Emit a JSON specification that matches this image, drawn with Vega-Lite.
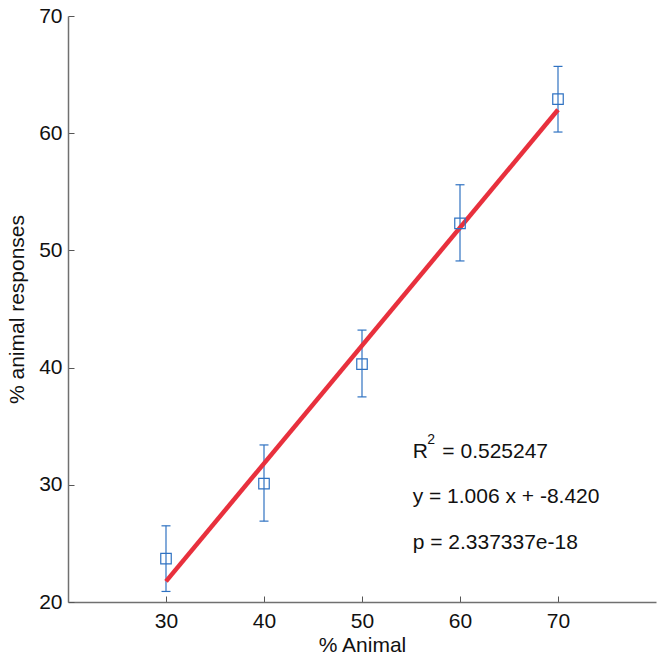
{
  "$schema": "https://vega.github.io/schema/vega-lite/v6.json",
  "width": 588,
  "height": 586,
  "autosize": {"type": "none"},
  "padding": {"left": 68, "top": 16, "right": 8, "bottom": 61},
  "background": "white",
  "config": {
    "view": {"stroke": null},
    "font": "Liberation Sans",
    "axis": {
      "grid": false,
      "domainColor": "#707070",
      "domainWidth": 1.5,
      "tickColor": "#555555",
      "tickWidth": 1,
      "tickSize": -6,
      "labelFont": "Liberation Sans",
      "labelFontSize": 21,
      "labelColor": "#111111",
      "titleFont": "Liberation Sans",
      "titleFontSize": 21,
      "titleFontWeight": "normal",
      "titleColor": "#111111"
    }
  },
  "datasets": {
    "points": [
      {"animal": 30, "resp": 23.7, "lo": 20.9, "hi": 26.5},
      {"animal": 40, "resp": 30.1, "lo": 26.9, "hi": 33.4},
      {"animal": 50, "resp": 40.3, "lo": 37.5, "hi": 43.2},
      {"animal": 60, "resp": 52.3, "lo": 49.1, "hi": 55.6},
      {"animal": 70, "resp": 62.9, "lo": 60.1, "hi": 65.7}
    ],
    "fit": [
      {"animal": 30, "resp": 21.76},
      {"animal": 70, "resp": 61.999}
    ],
    "notes": [
      {"tx": 55.17, "ty": 32.29, "label": "R"},
      {"tx": 58.2, "ty": 32.29, "label": "= 0.525247"},
      {"tx": 55.17, "ty": 28.45, "label": "y = 1.006 x + -8.420"},
      {"tx": 55.17, "ty": 24.52, "label": "p = 2.337337e-18"}
    ],
    "sup": [
      {"tx": 56.65, "ty": 33.45, "label": "2"}
    ]
  },
  "layer": [
    {
      "data": {"name": "points"},
      "mark": {"type": "errorbar", "color": "#2f72c2", "thickness": 1.2, "opacity": 1, "ticks": {"size": 9, "thickness": 1.2}},
      "encoding": {
        "x": {
          "field": "animal", "type": "quantitative",
          "scale": {"domain": [20, 80], "nice": false, "zero": false},
          "axis": {"values": [30, 40, 50, 60, 70], "title": "% Animal", "labelPadding": 14, "titlePadding": 3}
        },
        "y": {
          "field": "lo", "type": "quantitative",
          "scale": {"domain": [20, 70], "nice": false, "zero": false},
          "axis": {"values": [20, 30, 40, 50, 60, 70], "title": "% animal responses", "labelPadding": 12, "titlePadding": 11}
        },
        "y2": {"field": "hi"}
      }
    },
    {
      "data": {"name": "fit"},
      "mark": {"type": "line", "color": "#e8303d", "strokeWidth": 4.5, "strokeCap": "butt"},
      "encoding": {
        "x": {"field": "animal", "type": "quantitative"},
        "y": {"field": "resp", "type": "quantitative"}
      }
    },
    {
      "data": {"name": "points"},
      "mark": {"type": "point", "shape": "square", "filled": false, "size": 110, "strokeWidth": 1.2, "color": "#2f72c2", "opacity": 1},
      "encoding": {
        "x": {"field": "animal", "type": "quantitative"},
        "y": {"field": "resp", "type": "quantitative"}
      }
    },
    {
      "data": {"name": "notes"},
      "mark": {"type": "text", "align": "left", "baseline": "alphabetic", "fontSize": 21, "color": "#111111", "font": "Liberation Sans"},
      "encoding": {
        "x": {"field": "tx", "type": "quantitative"},
        "y": {"field": "ty", "type": "quantitative"},
        "text": {"field": "label"}
      }
    },
    {
      "data": {"name": "sup"},
      "mark": {"type": "text", "align": "left", "baseline": "alphabetic", "fontSize": 14, "color": "#111111", "font": "Liberation Sans"},
      "encoding": {
        "x": {"field": "tx", "type": "quantitative"},
        "y": {"field": "ty", "type": "quantitative"},
        "text": {"field": "label"}
      }
    }
  ]
}
